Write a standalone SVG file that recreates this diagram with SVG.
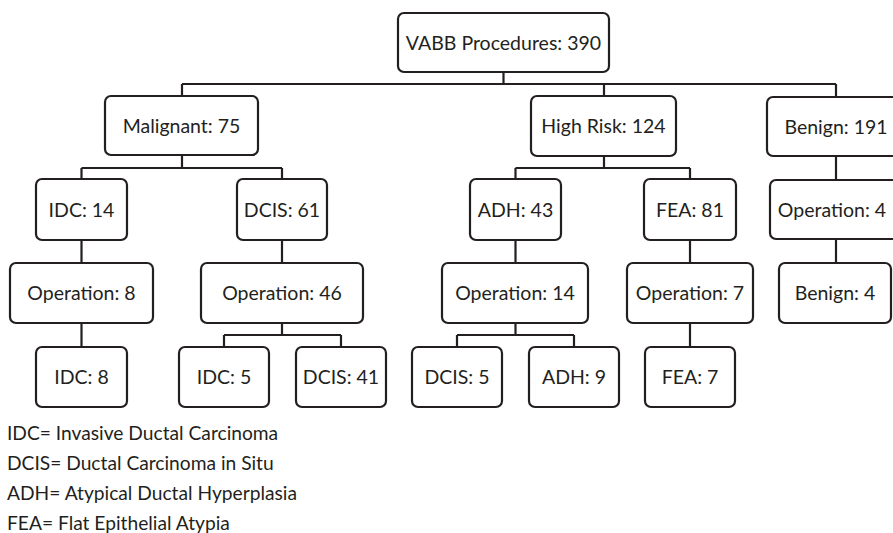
<svg xmlns="http://www.w3.org/2000/svg" width="893" height="533" viewBox="0 0 893 533">
<style>
.box{fill:#fff;stroke:#231f20;stroke-width:2.2}
.t{font-family:Lato,"Open Sans","Liberation Sans",sans-serif;font-size:19.5px;fill:#231f20;text-anchor:middle}
.lg{font-family:Lato,"Open Sans","Liberation Sans",sans-serif;font-size:19.2px;fill:#231f20}
.c{fill:none;stroke:#231f20;stroke-width:2.2}
</style>
<rect width="893" height="533" fill="#fff"/>
<g id="connectors" class="c">
<path d="M503.5 72V84M182 84H836M182 84V96M604 84V96M836 84V97"/>
<path d="M182 155V168M81.5 168H282M81.5 168V179M282 168V179"/>
<path d="M604 156V168M515.5 168H690M515.5 168V179M690 168V179"/>
<path d="M836 156V180"/>
<path d="M81.5 240V263M282 240V263M515.5 240V263M690 240V263M836 239V263"/>
<path d="M81.5 323V347M282 323V335M224 335H341M224 335V347M341 335V347"/>
<path d="M515.5 323V335M457 335H574M457 335V347M574 335V347M690 323V347"/>
</g>
<g id="root"><rect class="box" x="398" y="13" width="211" height="59" rx="6"/><text class="t" x="503.5" y="49.5">VABB Procedures: 390</text></g>
<g id="malignant"><rect class="box" x="105" y="96" width="153" height="59" rx="6"/><text class="t" x="181.5" y="132.5">Malignant: 75</text></g>
<g id="highrisk"><rect class="box" x="531" y="96" width="145" height="60" rx="6"/><text class="t" x="603.5" y="133">High Risk: 124</text></g>
<g id="benign191"><rect class="box" x="767" y="97" width="138" height="59" rx="6"/><text class="t" x="836" y="133.5">Benign: 191</text></g>
<g id="idc14"><rect class="box" x="36" y="179" width="91" height="61" rx="6"/><text class="t" x="81.5" y="216.5">IDC: 14</text></g>
<g id="dcis61"><rect class="box" x="237" y="179" width="90" height="61" rx="6"/><text class="t" x="282" y="216.5">DCIS: 61</text></g>
<g id="adh43"><rect class="box" x="470" y="179" width="91" height="61" rx="6"/><text class="t" x="515.5" y="216.5">ADH: 43</text></g>
<g id="fea81"><rect class="box" x="644" y="179" width="92" height="61" rx="6"/><text class="t" x="690" y="216.5">FEA: 81</text></g>
<g id="op4"><rect class="box" x="770" y="180" width="132" height="59" rx="6"/><text class="t" x="832" y="216.5">Operation: 4</text></g>
<g id="op8"><rect class="box" x="10" y="263" width="143" height="60" rx="6"/><text class="t" x="81.5" y="300">Operation: 8</text></g>
<g id="op46"><rect class="box" x="201" y="263" width="162" height="60" rx="6"/><text class="t" x="282" y="300">Operation: 46</text></g>
<g id="op14"><rect class="box" x="442" y="263" width="146" height="60" rx="6"/><text class="t" x="515" y="300">Operation: 14</text></g>
<g id="op7"><rect class="box" x="627" y="263" width="126" height="60" rx="6"/><text class="t" x="690" y="300">Operation: 7</text></g>
<g id="benign4"><rect class="box" x="779" y="263" width="112" height="60" rx="6"/><text class="t" x="835" y="300">Benign: 4</text></g>
<g id="idc8"><rect class="box" x="36" y="347" width="91" height="60" rx="6"/><text class="t" x="81.5" y="384">IDC: 8</text></g>
<g id="idc5"><rect class="box" x="179" y="347" width="90" height="60" rx="6"/><text class="t" x="224" y="384">IDC: 5</text></g>
<g id="dcis41"><rect class="box" x="296" y="347" width="90" height="60" rx="6"/><text class="t" x="341" y="384">DCIS: 41</text></g>
<g id="dcis5"><rect class="box" x="412" y="347" width="90" height="60" rx="6"/><text class="t" x="457" y="384">DCIS: 5</text></g>
<g id="adh9"><rect class="box" x="529" y="347" width="90" height="60" rx="6"/><text class="t" x="574" y="384">ADH: 9</text></g>
<g id="fea7"><rect class="box" x="645" y="347" width="90" height="60" rx="6"/><text class="t" x="690" y="384">FEA: 7</text></g>
<g id="legend">
<text class="lg" x="7" y="440">IDC= Invasive Ductal Carcinoma</text>
<text class="lg" x="7" y="470">DCIS= Ductal Carcinoma in Situ</text>
<text class="lg" x="7" y="500">ADH= Atypical Ductal Hyperplasia</text>
<text class="lg" x="7" y="530">FEA= Flat Epithelial Atypia</text>
</g>
</svg>
